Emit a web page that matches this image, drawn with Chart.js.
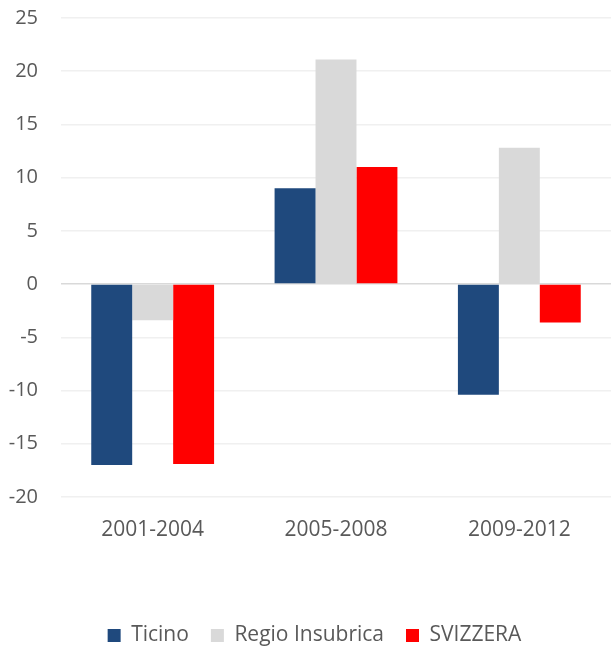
<!DOCTYPE html>
<html>
<head>
<meta charset="utf-8">
<script src="https://cdn.jsdelivr.net/npm/chart.js@4/dist/chart.umd.min.js"></script>
<style>
  html, body { margin: 0; padding: 0; background: #ffffff; }
  #wrap { width: 611px; height: 651px; position: relative; }
</style>
</head>
<body>
<div id="wrap"><canvas id="c" width="611" height="651"></canvas></div>
<script>
const categories = ["2001-2004", "2005-2008", "2009-2012"];
const seriesNames = ["Ticino", "Regio Insubrica", "SVIZZERA"];
const ticino = [-17.0, 9.0, -10.4];
const regioInsubrica = [-3.4, 21.1, 12.8];
const svizzera = [-16.9, 11.0, -3.6];
const yMin = -20, yMax = 25, yStep = 5;

const colors = ["#1f497d", "#d9d9d9", "#ff0000"];
const fontFamily = "'Open Sans', 'Liberation Sans', sans-serif";

const legendShift = {
  id: 'legendShift',
  beforeDraw(chart) {
    const lg = chart.legend;
    if (lg && !lg._shifted) { lg.left += 9; lg.right += 9; lg._shifted = true; }
  }
};

new Chart(document.getElementById('c'), {
  type: 'bar',
  data: {
    labels: categories,
    datasets: [
      { label: seriesNames[0], data: ticino, backgroundColor: colors[0] },
      { label: seriesNames[1], data: regioInsubrica, backgroundColor: colors[1] },
      { label: seriesNames[2], data: svizzera, backgroundColor: colors[2] }
    ]
  },
  plugins: [legendShift],
  options: {
    responsive: false,
    animation: false,
    devicePixelRatio: 1,
    layout: { padding: { top: 18, right: 0, left: 0, bottom: -5 } },
    datasets: { bar: { categoryPercentage: 0.67, barPercentage: 1.0 } },
    plugins: {
      legend: {
        position: 'bottom',
        labels: {
          boxWidth: 13, boxHeight: 13, padding: 22,
          color: '#595959',
          font: { family: fontFamily, size: 21 }
        }
      },
      tooltip: { enabled: false }
    },
    scales: {
      x: {
        grid: { display: false, drawTicks: false },
        border: { display: false },
        ticks: { color: '#595959', padding: 20, font: { family: fontFamily, size: 21 } },
        afterFit: (s) => { s.height = 106; }
      },
      y: {
        min: yMin, max: yMax,
        grid: {
          drawTicks: false,
          lineWidth: 1.5,
          color: (ctx) => (ctx.tick && ctx.tick.value === 0) ? '#d9d9d9' : '#f0f0f0'
        },
        border: { display: false },
        ticks: { stepSize: yStep, color: '#595959', padding: 23, font: { family: fontFamily, size: 20 } },
        afterFit: (s) => { s.width = 61; s.paddingTop = 0; s.paddingBottom = 0; }
      }
    }
  }
});
</script>
</body>
</html>
